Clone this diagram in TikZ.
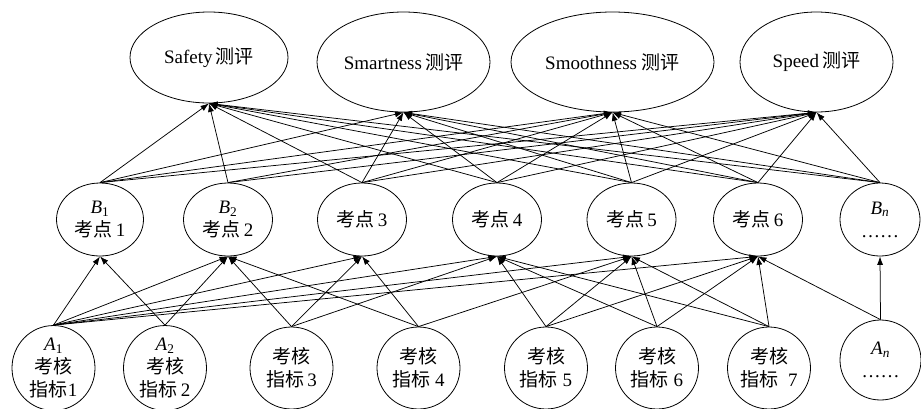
\documentclass[tikz,border=0pt]{standalone}
\usepackage{fontspec}
\setmainfont{Liberation Serif}
\newfontfamily\cjk{Noto Sans CJK SC}
\newcommand{\zh}[1]{{\cjk #1}}
\usetikzlibrary{shapes.geometric,arrows.meta}
\begin{document}
\begin{tikzpicture}[x=1pt,y=-1pt,
  el/.style={draw, ellipse, inner sep=0pt, line width=0.8pt, align=center,
    font=\fontsize{19}{23}\selectfont},
  top/.style={el, minimum height=100pt},
  mid/.style={el, minimum width=89pt, minimum height=73pt},
  bot/.style={el, minimum width=83pt, minimum height=82pt},
  conn/.style={-{Latex[length=8.5pt,width=6pt]}, line width=0.75pt}]
\useasboundingbox (0,0) rectangle (921,408);
% top row
\node[el, minimum width=158pt, minimum height=91pt] (saf) at (209,57.5) {Safety\,\zh{测评}};
\node[top, minimum width=173pt] (sma) at (403.5,62) {Smartness\,\zh{测评}};
\node[top, minimum width=203pt] (smo) at (612.5,62) {Smoothness \zh{测评}};
\node[top, minimum width=153pt] (spe) at (816.5,62) {Speed\,\zh{测评}};
% middle row
\node[mid, minimum width=87pt] (b1) at (100,219.5) {\textit{B}\textsubscript{1}\\\zh{考点}\,1};
\node[mid] (b2) at (228,219.5) {\textit{B}\textsubscript{2}\\\zh{考点}\,2};
\node[mid] (p3) at (362,219.5) {\zh{考点}\,3};
\node[mid] (p4) at (497,219.5) {\zh{考点}\,4};
\node[mid] (p5) at (631.5,219.5) {\zh{考点}\,5};
\node[mid] (p6) at (758,219.5) {\zh{考点}\,6};
\node[mid, minimum width=80pt] (bn) at (880,219.5) {\textit{B}\textsubscript{\textit{n}}\\……};
% bottom row
\node[bot] (a1) at (53.5,368) {\textit{A}\textsubscript{1}\\\zh{考核}\\\zh{指标}1};
\node[bot] (a2) at (165,368) {\textit{A}\textsubscript{2}\\\zh{考核}\\\zh{指标}\,2};
\node[bot] (k3) at (291.5,368) {\zh{考核}\\\zh{指标}\,3};
\node[bot] (k4) at (418.5,368) {\zh{考核}\\\zh{指标}\ 4};
\node[bot] (k5) at (546,368) {\zh{考核}\\\zh{指标}\ 5};
\node[bot] (k6) at (657,368) {\zh{考核}\\\zh{指标}\ 6};
\node[bot] (k7) at (769,368) {\zh{考核}\\\zh{指标}\ \ 7};
\node[el, minimum width=81pt, minimum height=80pt] (an) at (880.5,360) {\textit{A}\textsubscript{\textit{n}}\\……};
% bottom -> middle
\foreach \s/\t in {a1/b1,a1/b2,a1/p3,a1/p4,a1/p5,a1/p6,
  a2/b1,a2/b2,
  k3/b2,k3/p3,k3/p4,
  k4/b2,k4/p3,k4/p5,
  k5/p4,k5/p5,k5/p6,
  k6/p4,k6/p5,k6/p6,
  k7/p4,k7/p5,k7/p6,
  an/p6,an/bn}
  \draw[conn] (\s.north) -- (\t.south);
% middle -> top
\foreach \s/\t in {b1/saf,b2/saf,p3/saf,p4/saf,p5/saf,p6/saf,bn/saf,
  b1/sma,p3/sma,p4/sma,p5/sma,p6/sma,bn/sma,
  b1/smo,b2/smo,p3/smo,p4/smo,p5/smo,p6/smo,bn/smo,
  b1/spe,b2/spe,p3/spe,p4/spe,p5/spe,p6/spe,bn/spe}
  \draw[conn] (\s.north) -- (\t.south);
\end{tikzpicture}
\end{document}
